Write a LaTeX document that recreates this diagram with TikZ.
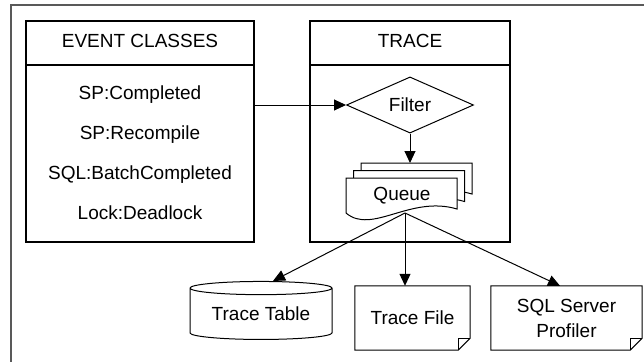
\documentclass[tikz,border=0pt]{standalone}
\usepackage{fontspec}
\setmainfont{Liberation Sans}
\usetikzlibrary{arrows.meta,shapes.geometric}

\begin{document}
\begin{tikzpicture}[x=1pt, y=-1pt,
        font=\fontsize{19}{25}\selectfont,
        panel/.style={draw, line width=1.1pt, minimum width=#1, minimum height=221pt, inner sep=0pt},
        item/.style={inner sep=0pt, text height=13pt, text depth=4pt},
        paper/.style={minimum width=#1, minimum height=64pt, inner sep=0pt, align=center},
        sheet/.style={draw, fill=white, line width=1pt},
        flow/.style={-{Triangle[length=12pt, width=11pt]}, line width=1pt}]
        \useasboundingbox (0,0) rectangle (644,362);
        \pgfmathsetmacro{\fold}{12}

        % frame, cut off by the page
        \draw[line width=1.3pt, black!65] (644,5) -- (11,5) -- (11,362);

        \node[panel=228pt] (events) at (140,131.5) {};
        \node[panel=200pt] (trace) at (410,131.5) {};
        \draw[line width=2pt] (events.west |- 0,65) -- (events.east |- 0,65);
        \draw[line width=2pt] (trace.west |- 0,65) -- (trace.east |- 0,65);

        \node[item] (evhead) at (140,43) {EVENT CLASSES};
        \node[item] (trhead) at (410,43) {TRACE};

        \foreach \txt [count=\i] in {SP:Completed, SP:Recompile, SQL:BatchCompleted, Lock:Deadlock}
            \node[item] (ev\i) at (140, 55 + 40 * \i) {\txt};

        \node[draw, diamond, line width=1pt, inner sep=0pt, minimum width=127pt, minimum height=47pt] (filter) at (410,105) {Filter};

        % queue as three stacked sheets
        \foreach \k in {2,1,0}
            \draw[sheet] (346 + 7.5 * \k, 178 - 7.5 * \k) -- ++(111,0) -- ++(0,31)
                .. controls ++(-47,-14) and ++(26,22) .. ++(-111,4) -- cycle;
        \node[item] (queue) at (402,196) {Queue};
        \coordinate (qout) at (405,213);
        \coordinate (qtop) at (410,163);

        % outputs
        \node[draw, cylinder, shape border rotate=90, aspect=0.134, line width=1pt,
            minimum width=142pt, minimum height=58pt, inner sep=0pt] (table) at (261,314) {\raisebox{-10pt}{Trace Table}};
        \node[paper=115pt] (file) at (412.5,318) {Trace File};
        \node[paper=151pt] (prof) at (566.5,318) {SQL Server\\Profiler};

        \foreach \p in {file, prof} {
            \draw[line width=1pt] (\p.north west) -- (\p.north east) -- ([yshift=\fold pt]\p.south east)
                -- ([xshift=-\fold pt]\p.south east) -- (\p.south west) -- cycle;
            \draw[line width=1pt] ([xshift=-\fold pt]\p.south east) -- ([xshift=-\fold pt, yshift=\fold pt]\p.south east)
                -- ([yshift=\fold pt]\p.south east);
        }

        \draw[flow] (events.east |- filter.west) -- (filter.west);
        \draw[flow] (filter.south) -- (qtop);
        \draw[flow] (qout) -- ([xshift=12pt]table.north);
        \draw[flow] (qout) -- (qout |- file.north);
        \draw[flow] (qout) -- ([xshift=-6.5pt]prof.north);
    \end{tikzpicture}
\end{document}
